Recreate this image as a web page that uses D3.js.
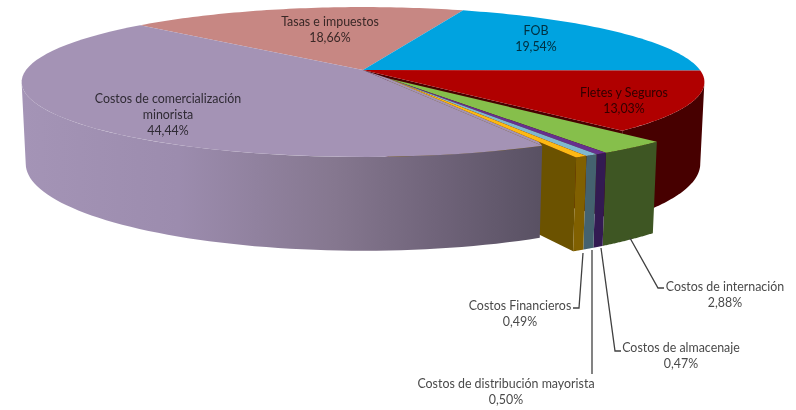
<!DOCTYPE html>
<html>
<head>
<meta charset="utf-8">
<script src="https://cdn.jsdelivr.net/npm/d3@7"></script>
<style>
  html, body { margin: 0; padding: 0; background: #fff; }
  svg { display: block; filter: blur(0.35px); }
  text { font-family: Lato, "Open Sans", sans-serif; font-size: 12.4px; fill: #4a4a4a; mix-blend-mode: multiply; }
</style>
</head>
<body>
<div id="chart"></div>
<script>
// Load the data
const categories = ["FOB", "Fletes y Seguros", "Costos de internación", "Costos de almacenaje",
  "Costos de distribución mayorista", "Costos Financieros", "Costos de comercialización minorista", "Tasas e impuestos"];
const values = [19.54, 13.03, 2.88, 0.47, 0.50, 0.49, 44.44, 18.66];
const exploded = [false, false, true, true, true, true, false, false];
const topColors = ["#00a3e0", "#b00000", "#86bf4b", "#66308f", "#7fb8cf", "#fdb913", "#a493b5", "#c78783"];
const wallColors = ["#005a7c", "#470000", "#3e5623", "#331a52", "#44626f", "#806000", "url(#wallShade)", "#6e4a48"];

// label centres and leader lines, same order as categories
const labelLines = [["FOB"], ["Fletes y Seguros"], ["Costos de internación"], ["Costos de almacenaje"],
  ["Costos de distribución mayorista"], ["Costos Financieros"], ["Costos de comercialización", "minorista"], ["Tasas e impuestos"]];
const labelX = [536, 624, 725, 681, 506, 520, 168, 330];
const labelY = [30, 92, 286, 347, 383, 305, 98, 21];
const leaders = [
  [[630, 238], [658, 288], [664, 288]],
  [[601, 248], [615, 351], [621, 351]],
  [[592, 250], [592, 374]],
  [[583, 253], [579, 308], [573, 308]]
];

const width = 796, height = 410;
const svg = d3.select("#chart").append("svg")
  .attr("width", width)
  .attr("height", height);

// perspective of the tilted disc
const cx = 363, cy = 70, rx = 337, ry = 73, depth = 81, k = 0.16, m = 0.012;
const project = (x, y, z) => {
  const w = 1 - k * y + m * z;
  return [cx + rx * x / w, cy + (ry * y + depth * z) / w];
};

const pie = d3.pie().sort(null).value(d => d).startAngle(20 * Math.PI / 180).endAngle(380 * Math.PI / 180);
const arcs = pie(values);

// all the small slices move out together
const explodeAngle = 147 * Math.PI / 180, explodeBy = 0.137;
const shift = i => exploded[i]
  ? [explodeBy * Math.sin(explodeAngle), -explodeBy * Math.cos(explodeAngle)]
  : [0, 0];

const rim = (a, i, z) => {
  const s = shift(i);
  return project(Math.sin(a) + s[0], -Math.cos(a) + s[1], z);
};
const apex = (i, z) => {
  const s = shift(i);
  return project(s[0], s[1], z);
};
const sample = (a0, a1) => d3.range(0, 61).map(t => a0 + (a1 - a0) * t / 60);
const line = d3.line();

// walls only show between the two points where the disc turns away
const frontFrom = Math.acos(-k), frontTo = 2 * Math.PI - frontFrom;

const topPath = i => {
  const a = arcs[i];
  return line([apex(i, 0), ...sample(a.startAngle, a.endAngle).map(t => rim(t, i, 0))]) + "Z";
};
const wallPath = i => {
  const a = arcs[i];
  const a0 = Math.max(a.startAngle, frontFrom), a1 = Math.min(a.endAngle, frontTo);
  if (a1 <= a0) return "";
  const s = sample(a0, a1);
  return line([...s.map(t => rim(t, i, 0)), ...s.slice().reverse().map(t => rim(t, i, 1))]) + "Z";
};
const cutPath = (i, angle) => line([apex(i, 0), rim(angle, i, 0), rim(angle, i, 1), apex(i, 1)]) + "Z";

const grad = svg.append("defs").append("linearGradient")
  .attr("id", "wallShade")
  .attr("gradientUnits", "userSpaceOnUse")
  .attr("x1", 21).attr("x2", 545).attr("y1", 0).attr("y2", 0);
[[0, "#a494b6"], [0.3, "#9c8cae"], [0.6, "#85778f"], [0.8, "#6f6379"], [1, "#585062"]].forEach(d => {
  grad.append("stop").attr("offset", d[0]).attr("stop-color", d[1]);
});

const draw = (d, fill) => svg.append("path").attr("d", d).attr("fill", fill);

// back part of the pie first
[1].forEach(i => draw(wallPath(i), wallColors[i]));
draw(cutPath(1, arcs[1].endAngle), wallColors[1]);
[7, 0, 1].forEach(i => draw(topPath(i), topColors[i]));

// side of the pulled out group, the big slice hides most of it
draw(cutPath(5, arcs[5].endAngle), "#6b5200");
draw(wallPath(6), wallColors[6]);
draw(topPath(6), topColors[6]);

// close the gap so the big slice runs right up to the orange edge
const orangeApex = apex(5, 0), orangeEnd = rim(arcs[5].endAngle, 5, 0);
draw(line([
  apex(6, 0),
  orangeApex,
  d3.interpolate(orangeApex, orangeEnd)(0.8),
  rim(arcs[6].startAngle, 6, 0)
]) + "Z", topColors[6]);

// pulled out slices
[2, 3, 4, 5].forEach(i => draw(wallPath(i), wallColors[i]));
[2, 3, 4, 5].forEach(i => draw(topPath(i), topColors[i]));

// leader lines
svg.selectAll(".leader")
  .data(leaders)
  .enter().append("path")
  .attr("class", "leader")
  .attr("d", d => line(d))
  .attr("fill", "none")
  .attr("stroke", "#404040")
  .attr("stroke-width", 1.3);

// labels
categories.forEach((c, i) => {
  const rows = [...labelLines[i], values[i].toFixed(2).replace(".", ",") + "%"];
  const t = svg.append("text")
    .attr("text-anchor", "middle")
    .attr("dominant-baseline", "central");
  rows.forEach((r, j) => {
    t.append("tspan")
      .attr("x", labelX[i])
      .attr("y", labelY[i] + j * 16)
      .text(r);
  });
});
</script>
</body>
</html>
